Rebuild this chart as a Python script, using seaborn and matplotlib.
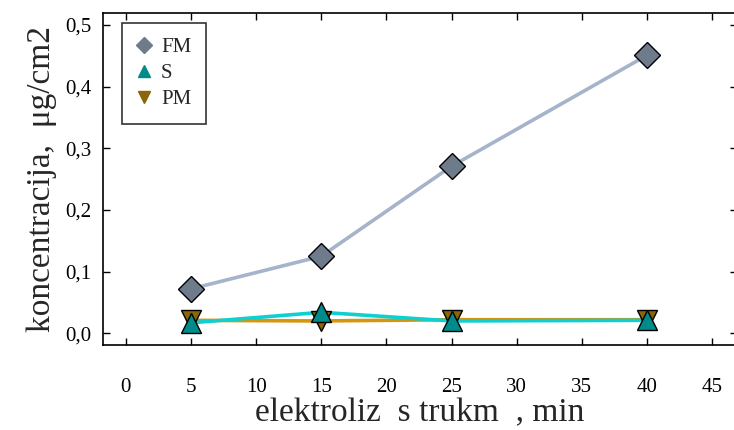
import matplotlib
matplotlib.use("Agg")
import matplotlib.pyplot as plt
from matplotlib.lines import Line2D
import seaborn as sns
import pandas as pd

time_min = [5, 15, 25, 40]
fm_values = [0.072, 0.125, 0.271, 0.451]
s_values = [0.017, 0.034, 0.020, 0.021]
pm_values = [0.021, 0.020, 0.022, 0.022]
series_names = ["FM", "S", "PM"]
x_ticks = [0, 5, 10, 15, 20, 25, 30, 35, 40, 45]
y_ticks = [0.0, 0.1, 0.2, 0.3, 0.4, 0.5]
y_tick_labels = ["0,0", "0,1", "0,2", "0,3", "0,4", "0,5"]
x_label = "elektroliz  s trukm  , min"
y_label = "koncentracija,  μg/cm2"

sns.set_style("ticks")
plt.rcParams["font.family"] = ["Liberation Serif", "DejaVu Serif"]

fig = plt.figure(figsize=(7.34, 4.30), dpi=100)
ax = fig.add_axes([0.1403, 0.1977, 0.8638, 0.7728])

df = pd.DataFrame({"t": time_min, "FM": fm_values, "S": s_values, "PM": pm_values})

styles = {
    "FM": dict(line="#a5b4ca", face="#6e7b8b", marker="D", ms=13),
    "PM": dict(line="#d4960f", face="#8b6508", marker="v", ms=15),
    "S": dict(line="#10cfd0", face="#008b8b", marker="^", ms=15),
}
order = ["FM", "PM", "S"]
for name in order:
    st = styles[name]
    sns.lineplot(data=df, x="t", y=name, ax=ax, color=st["line"], lw=2.6,
                 zorder=2, legend=False)
for name in order:
    st = styles[name]
    sns.lineplot(data=df, x="t", y=name, ax=ax, color=st["face"], lw=0,
                 marker=st["marker"], markersize=st["ms"], markeredgecolor="black",
                 markeredgewidth=1.0, zorder=3, legend=False)

ax.set_xlim(-1.75, 46.9)
ax.set_ylim(-0.019, 0.52)
ax.set_xticks(x_ticks)
ax.set_yticks(y_ticks)
ax.set_yticklabels(y_tick_labels)
ax.tick_params(axis="both", direction="in", length=5, width=1.0, labelsize=15,
               top=True, right=True, colors="black")
ax.tick_params(axis="x", pad=24)
ax.tick_params(axis="y", pad=8)
for sp in ax.spines.values():
    sp.set_linewidth(1.2)
    sp.set_color("black")
    sp.set_visible(True)

ax.set_xlabel(x_label, fontsize=24, labelpad=0)
ax.set_ylabel(y_label, fontsize=24, labelpad=6)

handles = [
    Line2D([], [], lw=0, marker=styles[n]["marker"], markersize=8,
           markerfacecolor=styles[n]["face"], markeredgecolor=styles[n]["face"])
    for n in series_names
]
leg = ax.legend(handles, series_names, loc="upper left", bbox_to_anchor=(0.03, 0.97),
                fontsize=15, frameon=True, fancybox=False, edgecolor="black",
                handlelength=0.7, handletextpad=0.45, borderpad=0.72, labelspacing=0.3,
                borderaxespad=0)
leg.get_frame().set_linewidth(1.2)

fig.savefig("out.png", dpi=100)
